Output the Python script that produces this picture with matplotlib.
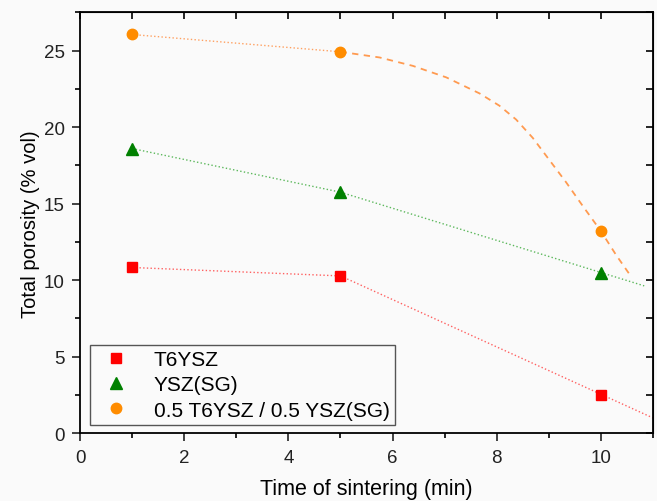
import numpy as np
import matplotlib
matplotlib.use("Agg")
import matplotlib.pyplot as plt
from matplotlib.ticker import MultipleLocator
from matplotlib.lines import Line2D

plt.rcParams['font.family'] = ['Liberation Sans', 'DejaVu Sans']

# measured points
time_min = [1, 5, 10]
t6ysz = [10.83, 10.28, 2.5]
ysz_sg = [18.6, 15.75, 10.5]
mix = [26.05, 24.92, 13.2]

# trend lines
t6ysz_fit_x = [5, 11.0]
t6ysz_fit_y = [10.28, 1.0]
ysz_fit_x = [5, 10.83]
ysz_fit_y = [15.75, 9.63]
mix_fit_x = [5, 5.75, 6.39, 7.03, 7.67, 8.05, 8.37, 8.69, 9.33, 9.65, 10.0, 10.29, 10.57]
mix_fit_y = [24.92, 24.55, 24.0, 23.25, 22.2, 21.4, 20.5, 19.3, 16.4, 14.85, 13.2, 11.65, 10.28]

labels = ['T6YSZ', 'YSZ(SG)', '0.5 T6YSZ / 0.5 YSZ(SG)']

red = '#ff0000'
green = '#008000'
orange = '#ff8c00'

bg = '#fafafa'
fig = plt.figure(figsize=(6.57, 5.02), dpi=100, facecolor=bg)
ax = fig.add_axes([0.1218, 0.1349, 0.8722, 0.8386], facecolor=bg)

# connecting segments (1 -> 5 min)
ax.plot(time_min[:2], t6ysz[:2], ls=':', lw=1.0, color='#ff6060')
ax.plot(time_min[:2], ysz_sg[:2], ls=':', lw=1.0, color='#5cb85c')
ax.plot(time_min[:2], mix[:2], ls=':', lw=1.0, color='#ffa060')

# trend lines from 5 min
ax.plot(t6ysz_fit_x, t6ysz_fit_y, ls=':', lw=1.0, color='#ff6060')
ax.plot(ysz_fit_x, ysz_fit_y, ls=':', lw=1.0, color='#5cb85c')
ax.plot(mix_fit_x, mix_fit_y, ls=(0, (3.5, 3)), lw=1.3, color='#ff9a50')

ax.plot(time_min, t6ysz, 's', color=red, ms=6.5, ls='none', zorder=5)
ax.plot(time_min, ysz_sg, '^', color=green, ms=8, ls='none', zorder=5)
ax.plot(time_min, mix, 'o', color=orange, ms=7.5, ls='none', zorder=5)

ax.set_xlim(0, 11)
ax.set_ylim(0, 27.5)
ax.xaxis.set_major_locator(MultipleLocator(2))
ax.xaxis.set_minor_locator(MultipleLocator(1))
ax.yaxis.set_major_locator(MultipleLocator(5))
ax.yaxis.set_minor_locator(MultipleLocator(2.5))

for s in ax.spines.values():
    s.set_linewidth(1.3)

ax.tick_params(axis='both', which='major', direction='out', length=6, width=1.2,
               labelsize=13.5, colors='#222222', pad=5)
ax.tick_params(axis='both', which='minor', direction='out', length=3.5, width=1.2)
ax.tick_params(axis='both', which='both', top=False, right=False)

# inward mirrored ticks on top and right
axt = ax.secondary_xaxis('top')
axt.xaxis.set_major_locator(MultipleLocator(1))
axt.tick_params(direction='in', length=5, width=1.2, labeltop=False)
axt.set_xticklabels([])
axr = ax.secondary_yaxis('right')
axr.yaxis.set_major_locator(MultipleLocator(2.5))
axr.tick_params(direction='in', length=5, width=1.2, labelright=False)
axr.set_yticklabels([])

ax.set_xlabel('Time of sintering (min)', fontsize=15.5, labelpad=9)
ax.set_ylabel('Total porosity (% vol)', fontsize=14.5, labelpad=3)

handles = [
    Line2D([], [], marker='s', color=red, ls='none', ms=6.5),
    Line2D([], [], marker='^', color=green, ls='none', ms=8),
    Line2D([], [], marker='o', color=orange, ls='none', ms=7.5),
]
leg = ax.legend(handles, labels, loc='lower left', bbox_to_anchor=(0.018, 0.02),
                fontsize=15, frameon=True, fancybox=False, edgecolor='#555555',
                facecolor=bg, framealpha=1, handlelength=2.0, handletextpad=0.8,
                borderpad=0.25, labelspacing=0.3, borderaxespad=0)
leg.get_frame().set_linewidth(1.0)

fig.savefig('out.png', dpi=100, facecolor=bg)
